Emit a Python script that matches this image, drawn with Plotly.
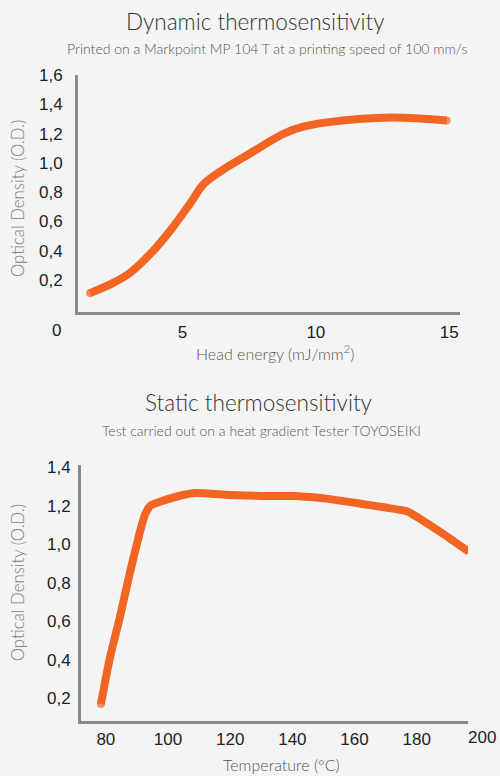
import plotly.graph_objects as go

# --- Data: dynamic thermosensitivity ---
energy = [1.54, 2.41, 3.05, 3.91, 4.6, 5.3, 5.8, 6.5, 7.5, 8.8, 9.6, 10.56, 12.8, 14.9]
od_dyn = [0.11, 0.18, 0.25, 0.40, 0.55, 0.725, 0.855, 0.95, 1.06, 1.2, 1.25, 1.28, 1.31, 1.29]
dyn_yticks = [0.2, 0.4, 0.6, 0.8, 1.0, 1.2, 1.4, 1.6]
dyn_ytext = ["0,2", "0,4", "0,6", "0,8", "1,0", "1,2", "1,4", "1,6"]
dyn_xticks = [0, 5, 10, 15]

# --- Data: static thermosensitivity ---
temp = [78.4, 81.3, 84.5, 87.7, 90.9, 92.5, 94.3, 96.5, 103.5, 109.0, 119.6, 130.1,
        141.0, 151.5, 162.0, 170.0, 177.0, 181.2, 188.8, 196.8]
od_stat = [0.17, 0.41, 0.62, 0.85, 1.06, 1.15, 1.20, 1.215, 1.25, 1.265, 1.255, 1.25,
           1.25, 1.235, 1.21, 1.19, 1.17, 1.13, 1.05, 0.96]
stat_yticks = [0.2, 0.4, 0.6, 0.8, 1.0, 1.2, 1.4]
stat_ytext = ["0,2", "0,4", "0,6", "0,8", "1,0", "1,2", "1,4"]
stat_xticks = [80, 100, 120, 140, 160, 180, 200]

ORANGE = "#F26522"
BG = "#F4F4F4"
AX = "#8A8A8A"
TICKFONT = dict(family="Liberation Sans, Arial", size=17, color="#222222")
THIN = "Lato, Noto Sans, sans-serif"

def end_sizes(n, s=8):
    return [s] + [0] * (n - 2) + [s]

fig = go.Figure()
fig.add_trace(go.Scatter(x=energy, y=od_dyn, mode="lines+markers",
                         line=dict(color=ORANGE, width=8, shape="spline", smoothing=1.0),
                         marker=dict(color=ORANGE, size=end_sizes(len(energy)), line=dict(width=0)),
                         cliponaxis=False, xaxis="x", yaxis="y", showlegend=False, hoverinfo="skip"))
fig.add_trace(go.Scatter(x=temp, y=od_stat, mode="lines+markers",
                         line=dict(color=ORANGE, width=8, shape="spline", smoothing=0.5),
                         marker=dict(color=ORANGE, size=end_sizes(len(temp)), line=dict(width=0)),
                         cliponaxis=False, xaxis="x2", yaxis="y2", showlegend=False, hoverinfo="skip"))

W, H = 500, 776
# vertical calibration of the photographed page
OFF, SC = 9.0, 0.988
def px(x): return x / W
def py(y): return 1 - ((y - OFF) / SC) / H

X1_DOM, X1_RNG = [px(78), px(460)], [1.09, 15.4]
X2_DOM, X2_RNG = [px(81), px(468)], [72.0, 196.5]

def to_paper(v, dom, rng):
    return dom[0] + (v - rng[0]) / (rng[1] - rng[0]) * (dom[1] - dom[0])

axis_common = dict(showgrid=False, zeroline=False, showline=True, linecolor=AX, linewidth=3,
                   ticks="", ticklen=0, tickfont=TICKFONT)

fig.update_layout(
    width=W, height=H, margin=dict(l=0, r=0, t=0, b=0),
    paper_bgcolor=BG, plot_bgcolor=BG,
    xaxis=dict(domain=X1_DOM, range=X1_RNG, tickvals=dyn_xticks,
               anchor="y", ticklabelstandoff=2, **axis_common),
    yaxis=dict(domain=[py(312), py(75)], range=[-0.02, 1.6], tickvals=dyn_yticks,
               ticktext=dyn_ytext, anchor="x", ticklabelstandoff=9, **axis_common),
    xaxis2=dict(domain=X2_DOM, range=X2_RNG, tickvals=stat_xticks,
                anchor="y2", ticklabelstandoff=0, **axis_common),
    yaxis2=dict(domain=[py(721), py(465)], range=[0.08, 1.41], tickvals=stat_yticks,
                ticktext=stat_ytext, anchor="x2", ticklabelstandoff=4, **axis_common),
)

ann = [
    dict(text="Dynamic thermosensitivity", x=px(255), y=py(21), font=dict(family=THIN, size=22.5, color="#333333", weight=300)),
    dict(text="Printed on a Markpoint MP 104 T at a printing speed of 100 mm/s", x=px(267), y=py(48),
         font=dict(family=THIN, size=14, color="#555555", weight=300)),
    dict(text="Static thermosensitivity", x=px(258), y=py(402), font=dict(family=THIN, size=22.5, color="#333333", weight=300)),
    dict(text="Test carried out on a heat gradient Tester TOYOSEIKI", x=px(261), y=py(430),
         font=dict(family=THIN, size=14, color="#555555", weight=300)),
    dict(text="Optical Density (O.D.)", x=px(17), y=py(199), textangle=-90,
         font=dict(family=THIN, size=16.8, color="#808080", weight=300)),
    dict(text="Optical Density (O.D.)", x=px(17), y=py(583), textangle=-90,
         font=dict(family=THIN, size=16.8, color="#808080", weight=300)),
    dict(text="Head energy (mJ/mm<sup>2</sup>)", x=px(275), y=py(352),
         font=dict(family=THIN, size=16, color="#555555", weight=300)),
    dict(text="Temperature (°C)", x=px(281), y=py(764),
         font=dict(family=THIN, size=16, color="#555555", weight=300)),
]
for a in ann:
    a.update(xref="paper", yref="paper", showarrow=False, xanchor="center", yanchor="middle")
    fig.add_annotation(**a)

# tick labels that sit outside the drawn axis lines, placed through the axes' scales
fig.add_annotation(text="0", x=to_paper(dyn_xticks[0], X1_DOM, X1_RNG), xref="paper",
                   y=py(330), yref="paper", xshift=8,
                   showarrow=False, font=TICKFONT, yanchor="middle", xanchor="center")
fig.add_annotation(text="200", x=to_paper(stat_xticks[-1], X2_DOM, X2_RNG), xref="paper",
                   y=py(737), yref="paper", xshift=3,
                   showarrow=False, font=TICKFONT, yanchor="middle", xanchor="center")

fig.write_html(
    "out.html", config={"displayModeBar": False},
    post_script=("var d=document.getElementById('{plot_id}');"
                 "d.style.position='fixed';d.style.top='0px';d.style.left='0px';"
                 "document.body.style.margin='0';document.body.style.overflow='hidden';"))
